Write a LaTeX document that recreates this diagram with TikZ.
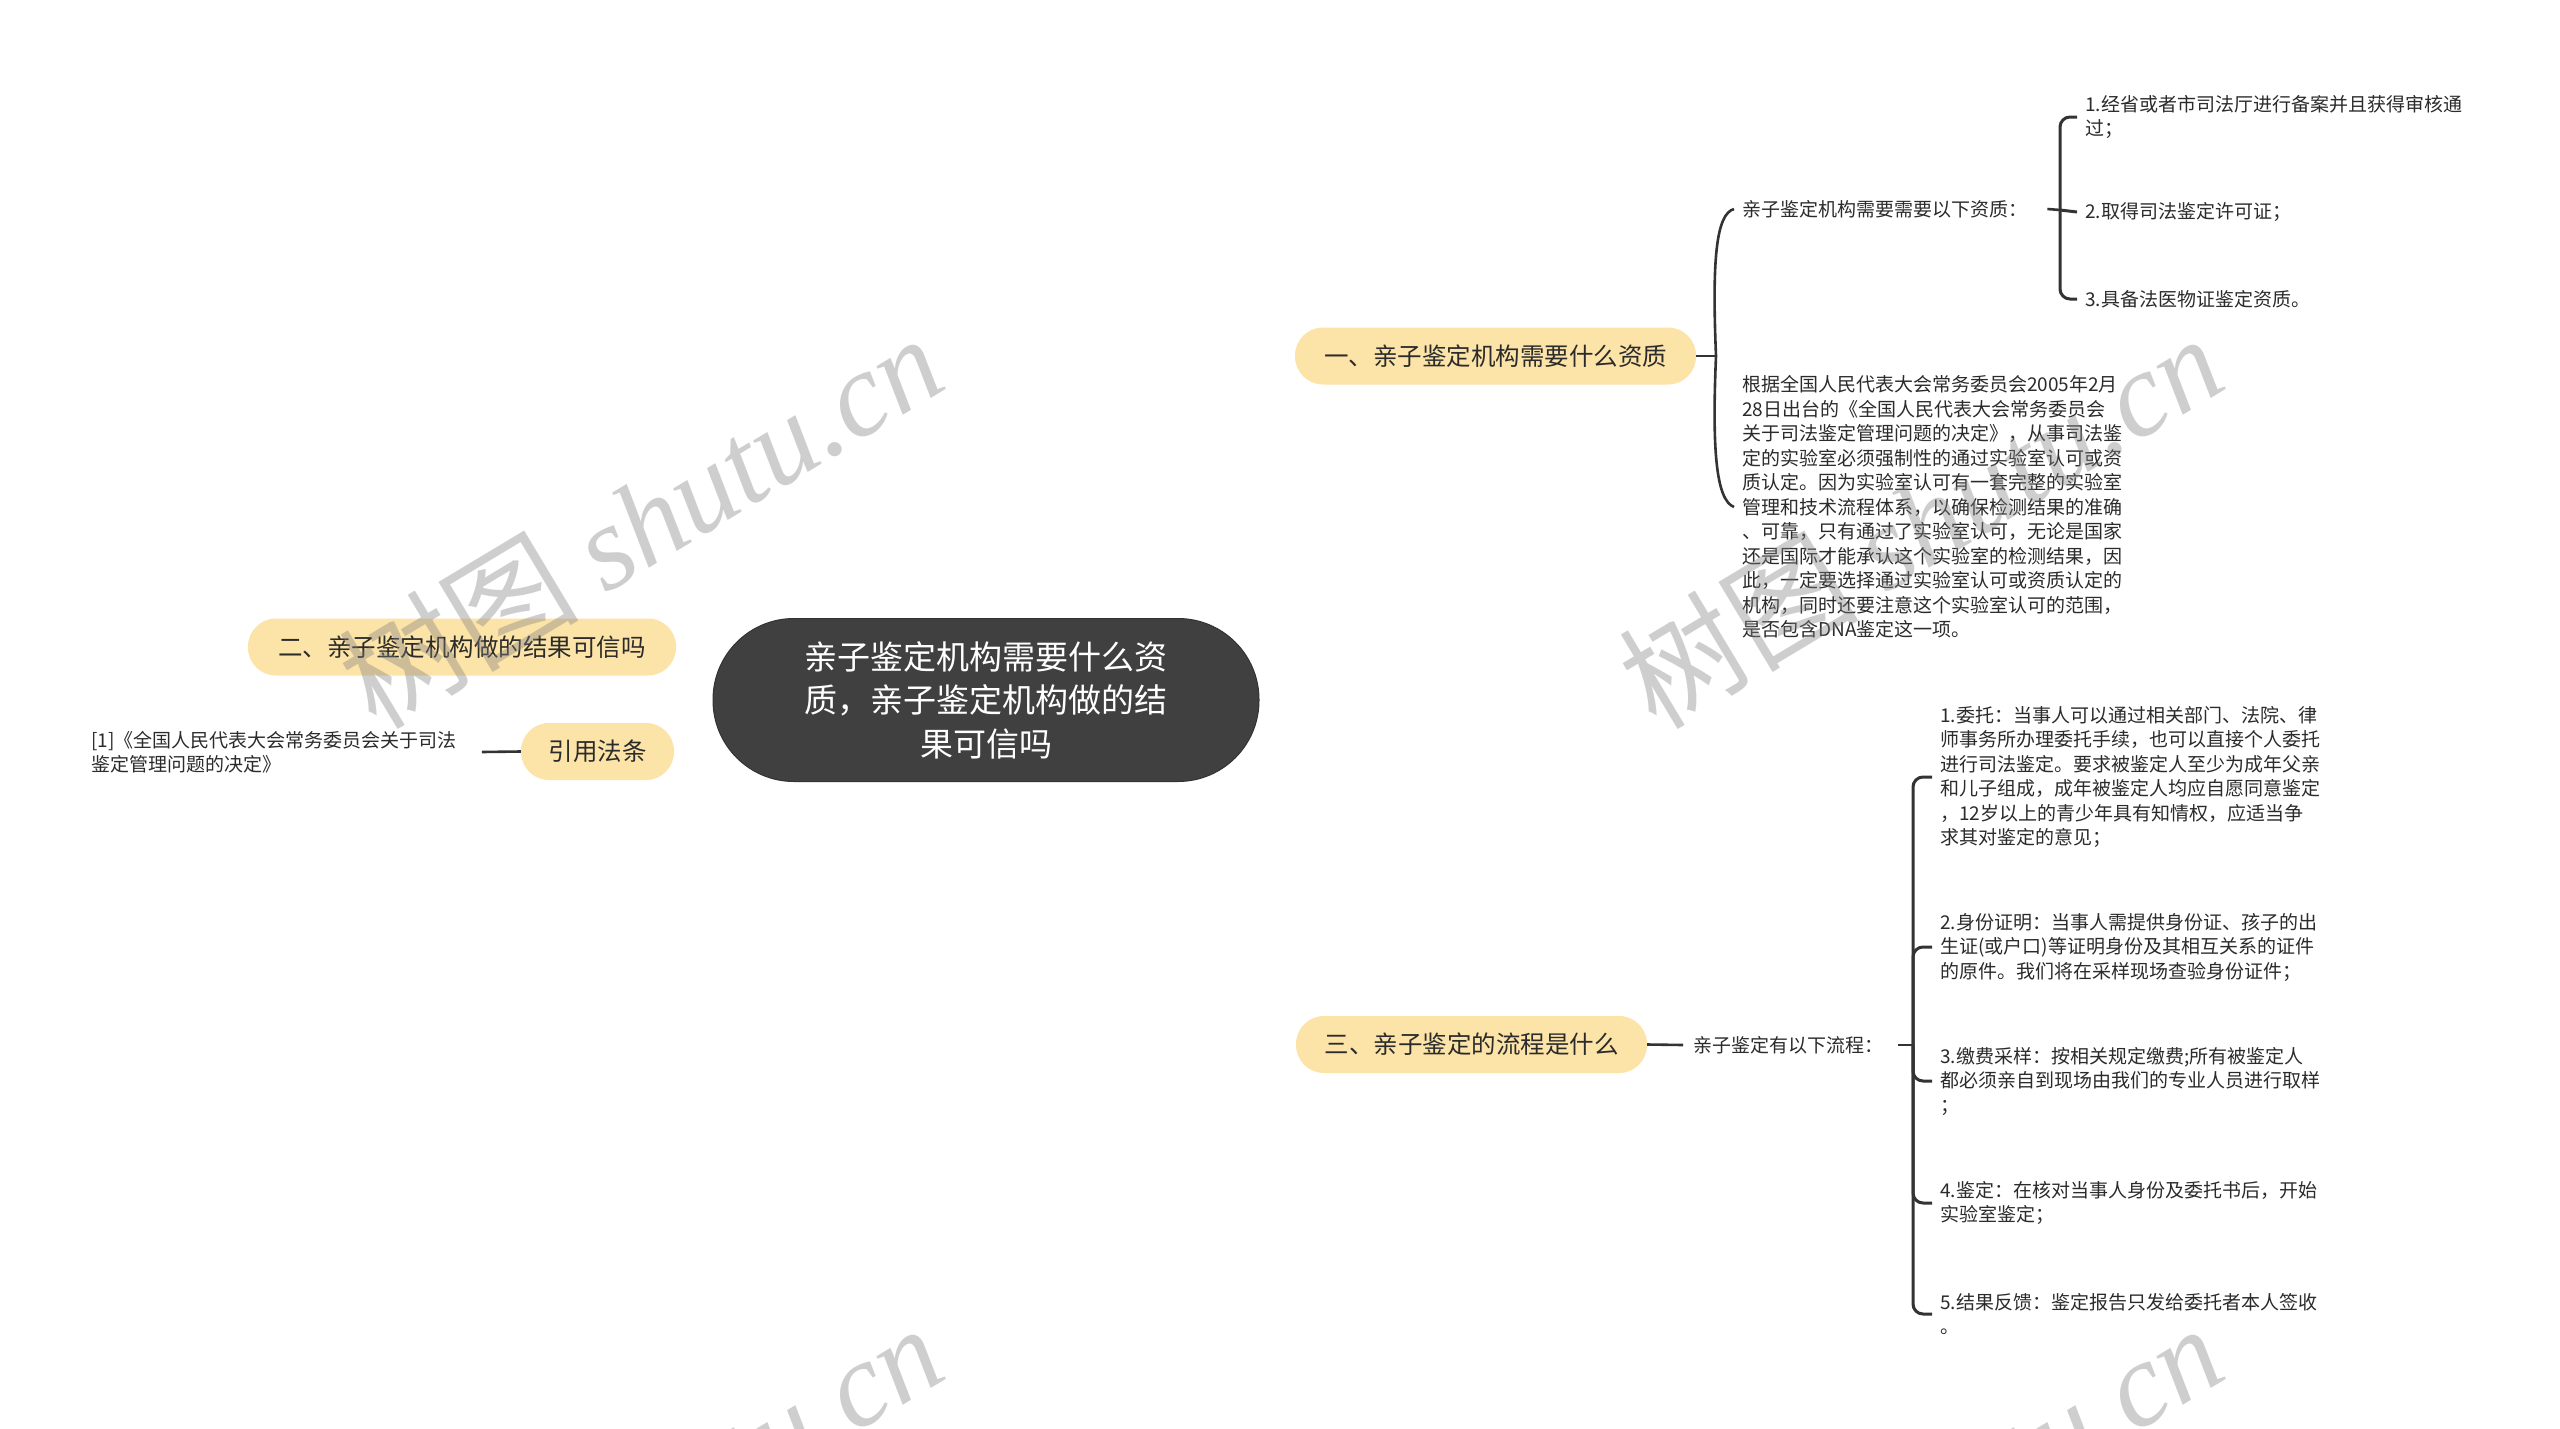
\documentclass[tikz,border=0pt]{standalone}
\usepackage{fontspec}
\setmainfont{Noto Sans CJK SC}
\newfontfamily\wmlatin{Liberation Serif}
\usetikzlibrary{backgrounds}
\definecolor{pillc}{HTML}{FCE3A7}
\definecolor{corec}{HTML}{404040}
\definecolor{lnc}{HTML}{333333}
\definecolor{txc}{HTML}{2B2B2B}
\begin{document}
\begin{tikzpicture}[x=1pt,y=-1pt,
  pillnode/.style={fill=pillc, rounded corners=28pt, minimum height=57pt, inner xsep=0pt, inner ysep=0pt,
     font=\fontsize{24.5}{30}\selectfont, text=txc},
  corenode/.style={fill=corec, draw=lnc, line width=1pt, rounded corners=81pt, minimum width=546pt, minimum height=163pt,
     align=center, text=white, font=\fontsize{33}{43.5}\selectfont, inner sep=0pt},
  smalltext/.style={anchor=west, align=left, inner sep=0pt, text=txc, font=\fontsize{19}{24.5}\selectfont},
  conn/.style={draw=lnc, line width=2.2pt},
  brk/.style={draw=lnc, line width=3pt, rounded corners=10pt},
  wm/.style={rotate=31, text=gray, opacity=0.38, font=\fontsize{120}{120}\selectfont, inner sep=0pt}
]
\useasboundingbox (0,0) rectangle (2560,1429);
\fill[white] (0,0) rectangle (2560,1429);

% central and main branches
\node[corenode] (core) at (986,700) {亲子鉴定机构需要什么资\\质，亲子鉴定机构做的结\\果可信吗};
\node[pillnode, minimum width=401pt] (b1) at (1495.5,356) {一、亲子鉴定机构需要什么资质};
\node[pillnode, minimum width=428pt] (b2) at (462,647) {二、亲子鉴定机构做的结果可信吗};
\node[pillnode, minimum width=153pt] (cite) at (597.5,751.5) {引用法条};
\node[pillnode, minimum width=351pt] (b3) at (1471.5,1044.5) {三、亲子鉴定的流程是什么};

% citation text
\node[smalltext] (citetext) at (91,752) {[1]《全国人民代表大会常务委员会关于司法\\鉴定管理问题的决定》};

% branch 1 children
\node[smalltext] (lab1) at (1742,209) {亲子鉴定机构需要需要以下资质：};
\node[smalltext] (para) at (1742,507) {根据全国人民代表大会常务委员会2005年2月\\28日出台的《全国人民代表大会常务委员会\\关于司法鉴定管理问题的决定》，从事司法鉴\\定的实验室必须强制性的通过实验室认可或资\\质认定。因为实验室认可有一套完整的实验室\\管理和技术流程体系，以确保检测结果的准确\\、可靠，只有通过了实验室认可，无论是国家\\还是国际才能承认这个实验室的检测结果，因\\此，一定要选择通过实验室认可或资质认定的\\机构，同时还要注意这个实验室认可的范围，\\是否包含DNA鉴定这一项。};
\node[smalltext] (q1) at (2085,117) {1.经省或者市司法厅进行备案并且获得审核通\\过；};
\node[smalltext] (q2) at (2085,212) {2.取得司法鉴定许可证；};
\node[smalltext] (q3) at (2085,299) {3.具备法医物证鉴定资质。};

% branch 3 children
\node[smalltext] (lab3) at (1693,1045) {亲子鉴定有以下流程：};
\node[smalltext] (s1) at (1940,777) {1.委托：当事人可以通过相关部门、法院、律\\师事务所办理委托手续，也可以直接个人委托\\进行司法鉴定。要求被鉴定人至少为成年父亲\\和儿子组成，成年被鉴定人均应自愿同意鉴定\\，12岁以上的青少年具有知情权，应适当争\\求其对鉴定的意见；};
\node[smalltext] (s2) at (1940,947) {2.身份证明：当事人需提供身份证、孩子的出\\生证(或户口)等证明身份及其相互关系的证件\\的原件。我们将在采样现场查验身份证件；};
\node[smalltext] (s3) at (1940,1081) {3.缴费采样：按相关规定缴费;所有被鉴定人\\都必须亲自到现场由我们的专业人员进行取样\\；};
\node[smalltext] (s4) at (1940,1203) {4.鉴定：在核对当事人身份及委托书后，开始\\实验室鉴定；};
\node[smalltext] (s5) at (1940,1314) {5.结果反馈：鉴定报告只发给委托者本人签收\\。};

\coordinate (j1) at (1716,356);
\coordinate (j2) at (2060,210);
\coordinate (j3) at (1913,1045);

\begin{scope}[on background layer]
  \draw[conn] (core.north) .. controls +(0,-210) and +(-190,0) .. (b1.west);
  \draw[conn] (core.south) .. controls +(0,210) and +(-190,0) .. (b3.west);
  \draw[conn] (b2.east) -- (core.center |- b2.east);
  \draw[conn] (cite.east) -- (core.center |- cite.east);
\end{scope}
\draw[conn, line width=2.6pt] (cite.west) -- ([xshift=25pt]citetext.east);

% branch 1 brace
\draw[conn, line width=2.6pt] (b1.east) -- (j1);
\draw[conn, line width=2.6pt] (j1) .. controls (1712,260) and (1716,214) .. ([xshift=-8pt]lab1.west);
\draw[conn, line width=2.6pt] (j1) .. controls (1712,450) and (1716,500) .. ([xshift=-8pt]para.west);

% sub-bracket of branch 1
\draw[conn, line width=2.6pt] ([xshift=20pt]lab1.east) -- (j2);
\draw[brk] (j2) -- (j2 |- q1.west) -- ([xshift=-8pt]q1.west);
\draw[brk] (j2) -- ([xshift=-8pt]q2.west);
\draw[brk] (j2) -- (j2 |- q3.west) -- ([xshift=-8pt]q3.west);

% branch 3
\draw[conn, line width=2.6pt] (b3.east) -- ([xshift=-10pt]lab3.west);
\draw[conn, line width=2.6pt] ([xshift=15pt]lab3.east) -- (j3);
\foreach \s in {s1,s2,s3,s4,s5}{
  \draw[brk] (j3) -- (j3 |- \s.west) -- ([xshift=-8pt]\s.west);
}

% watermarks
\node[wm] (w1) at (640,520) {树图 {\wmlatin\itshape shutu.cn}};
\node[wm] (w2) at (1920,520) {树图 {\wmlatin\itshape shutu.cn}};
\node[wm] (w3) at (640,1510) {树图 {\wmlatin\itshape shutu.cn}};
\node[wm] (w4) at (1920,1510) {树图 {\wmlatin\itshape shutu.cn}};
\end{tikzpicture}
\end{document}
